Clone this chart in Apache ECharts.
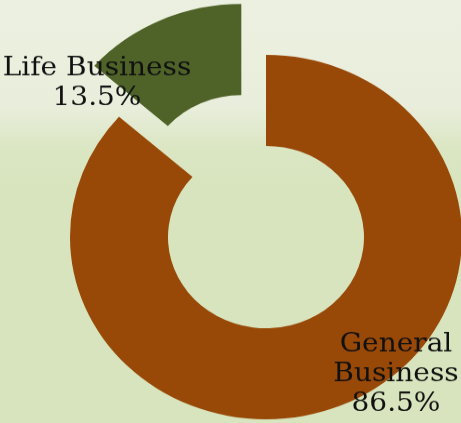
<!DOCTYPE html>
<html>
<head>
<meta charset="utf-8">
<script src="https://cdn.jsdelivr.net/npm/echarts@6/dist/echarts.min.js"></script>
<style>
  html, body { margin: 0; padding: 0; width: 461px; height: 423px; overflow: hidden;
    background: linear-gradient(to bottom, #ecf0e0 0%, #e9eedc 25%, #dbe6c3 35%, #d7e4bd 45%, #d7e4bd 100%); }
  #chart { width: 461px; height: 455px; transform: scale(1, 0.9297); transform-origin: 0 0; }
</style>
</head>
<body>
<div id="chart"></div>
<script>
const categories = ["General Business", "Life Business"];
const shares = [86.5, 13.5];
const colors = ["#984807", "#4F6228"];

const labelSpots = [ { x: 396, y: 403 }, { x: 97, y: 90 } ];

const chart = echarts.init(document.getElementById('chart'), null, { renderer: 'canvas' });
chart.setOption({
  animation: false,
  backgroundColor: 'transparent',
  series: [{
    type: 'pie',
    center: [266, 255],
    radius: [98, 196],
    startAngle: 90,
    clockwise: true,
    selectedMode: 'single',
    selectedOffset: 60,
    emphasis: { disabled: true },
    label: { show: false },
    labelLine: { show: false },
    data: categories.map((c, i) => ({
      name: c,
      value: shares[i],
      selected: i === 1,
      itemStyle: { color: colors[i] }
    }))
  }, {
    type: 'pie',
    center: [266, 255],
    radius: [98, 196],
    startAngle: 90,
    clockwise: true,
    silent: true,
    selectedMode: false,
    emphasis: { disabled: true },
    itemStyle: { color: 'rgba(0,0,0,0)' },
    labelLine: { show: false },
    label: {
      show: true,
      position: 'outside',
      alignTo: 'none',
      overflow: 'none',
      color: '#111',
      fontFamily: '"DejaVu Serif", serif',
      fontSize: 28,
      lineHeight: 32,
      align: 'center',
      verticalAlign: 'middle',
      formatter: function (p) {
        const nm = p.dataIndex === 0 ? p.name.replace(' ', '\n') : p.name;
        return nm + '\n' + p.value.toFixed(1) + '%';
      }
    },
    labelLayout: function (params) {
      const s = labelSpots[params.dataIndex];
      return { x: s.x, y: s.y, align: 'center', verticalAlign: 'middle', hideOverlap: false, moveOverlap: null };
    },
    data: categories.map((c, i) => ({ name: c, value: shares[i] }))
  }]
});
</script>
</body>
</html>
